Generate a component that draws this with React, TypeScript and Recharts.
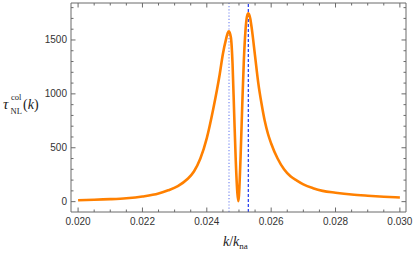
import React from 'react';
import { LineChart, Line, XAxis, YAxis, ReferenceLine } from 'recharts';

const kValues = [
  0.0200, 0.0205, 0.0210, 0.0215, 0.0220, 0.0225, 0.0228, 0.0231, 0.0234, 0.0236,
  0.0238, 0.0240, 0.0242, 0.0244, 0.0245, 0.0246, 0.02465, 0.02469, 0.02475, 0.0248,
  0.02485, 0.0249, 0.02495, 0.02498, 0.0250, 0.02505, 0.0251, 0.02515, 0.0252, 0.02525,
  0.02529, 0.02535, 0.0254, 0.0255, 0.0256, 0.0257, 0.0258, 0.0259, 0.0260, 0.0262,
  0.0264, 0.0266, 0.0268, 0.0270, 0.0273, 0.0276, 0.0280, 0.0285, 0.0290, 0.0295,
  0.0300,
];
const tauValues = [
  13, 17, 23, 32, 48, 75, 105, 145, 210, 280,
  400, 590, 860, 1180, 1370, 1510, 1565, 1580, 1520, 1280,
  820, 380, 80, 5, 60, 420, 880, 1300, 1580, 1720,
  1748, 1700, 1600, 1350, 1100, 910, 750, 630, 540, 400,
  300, 235, 195, 160, 125, 100, 83, 66, 55, 46,
  38,
];

const xTicks = [
  0.0200, 0.0205, 0.0210, 0.0215, 0.0220, 0.0225, 0.0230, 0.0235, 0.0240, 0.0245,
  0.0250, 0.0255, 0.0260, 0.0265, 0.0270, 0.0275, 0.0280, 0.0285, 0.0290, 0.0295, 0.0300,
];
const xMajorTicks = [0.020, 0.022, 0.024, 0.026, 0.028, 0.030];
const xTickLabels = ['0.020', '0.022', '0.024', '0.026', '0.028', '0.030'];
const yTicks = [0, 100, 200, 300, 400, 500, 600, 700, 800, 900, 1000, 1100, 1200, 1300, 1400, 1500, 1600, 1700, 1800];
const yMajorTicks = [0, 500, 1000, 1500];
const yTickLabels = ['0', '500', '1000', '1500'];

const kDotted = 0.02469;
const kDashed = 0.02529;

const data = kValues.map((k, i) => ({ k, tau: tauValues[i] }));

const FRAME = '#6a6a6a';
const LABEL = '#333';
const FONT = 'Liberation Sans, Arial, sans-serif';
const SERIF = 'Liberation Serif, DejaVu Serif, serif';

const majorIndex = (list: number[], v: number) => list.findIndex((m) => Math.abs(m - v) < 1e-9);

const BottomTick = (props: any) => {
  const { x, y, payload } = props;
  const mi = majorIndex(xMajorTicks, payload.value);
  return (
    <g>
      <line x1={x} y1={y} x2={x} y2={y - (mi >= 0 ? 4.5 : 2.5)} stroke={FRAME} strokeWidth={1} />
      {mi >= 0 && (
        <text x={x} y={y + 13} textAnchor="middle" fontSize={10} fontFamily={FONT} fill={LABEL}>
          {xTickLabels[mi]}
        </text>
      )}
    </g>
  );
};

const TopTick = (props: any) => {
  const { x, y, payload } = props;
  const mi = majorIndex(xMajorTicks, payload.value);
  return <line x1={x} y1={y} x2={x} y2={y + (mi >= 0 ? 4.5 : 2.5)} stroke={FRAME} strokeWidth={1} />;
};

const LeftTick = (props: any) => {
  const { x, y, payload } = props;
  const mi = majorIndex(yMajorTicks, payload.value);
  return (
    <g>
      <line x1={x} y1={y} x2={x + (mi >= 0 ? 4.5 : 2.5)} y2={y} stroke={FRAME} strokeWidth={1} />
      {mi >= 0 && (
        <text x={x - 4} y={y + 3.5} textAnchor="end" fontSize={10} fontFamily={FONT} fill={LABEL}>
          {yTickLabels[mi]}
        </text>
      )}
    </g>
  );
};

const RightTick = (props: any) => {
  const { x, y, payload } = props;
  const mi = majorIndex(yMajorTicks, payload.value);
  return <line x1={x} y1={y} x2={x - (mi >= 0 ? 4.5 : 2.5)} y2={y} stroke={FRAME} strokeWidth={1} />;
};

export default function App() {
  return (
    <div style={{ position: 'absolute', left: 0, top: 0, width: 414, height: 255, background: '#fff' }}>
      <LineChart width={414} height={255} data={data} margin={{ top: 2, right: 7, bottom: 42, left: 70 }}>
        <XAxis
          dataKey="k"
          type="number"
          domain={[0.01978, 0.03019]}
          allowDataOverflow
          ticks={xTicks}
          interval={0}
          tick={<BottomTick />}
          tickLine={false}
          tickSize={0}
          tickMargin={0}
          height={1}
          axisLine={{ stroke: FRAME }}
        />
        <XAxis
          xAxisId="top"
          orientation="top"
          dataKey="k"
          type="number"
          domain={[0.01978, 0.03019]}
          allowDataOverflow
          ticks={xTicks}
          interval={0}
          tick={<TopTick />}
          tickLine={false}
          tickSize={0}
          tickMargin={0}
          height={1}
          axisLine={{ stroke: FRAME }}
        />
        <YAxis
          type="number"
          domain={[-96, 1843]}
          allowDataOverflow
          ticks={yTicks}
          interval={0}
          tick={<LeftTick />}
          tickLine={false}
          tickSize={0}
          tickMargin={0}
          width={1}
          axisLine={{ stroke: FRAME }}
        />
        <YAxis
          yAxisId="right"
          orientation="right"
          type="number"
          domain={[-96, 1843]}
          allowDataOverflow
          ticks={yTicks}
          interval={0}
          tick={<RightTick />}
          tickLine={false}
          tickSize={0}
          tickMargin={0}
          width={1}
          axisLine={{ stroke: FRAME }}
        />
        <ReferenceLine x={kDotted} stroke="#7b8cf2" strokeWidth={1.2} strokeDasharray="1.2 2" />
        <ReferenceLine x={kDashed} stroke="#1f35f0" strokeWidth={1.2} strokeDasharray="3 2" />
        <Line
          type="monotone"
          dataKey="tau"
          stroke="#ff8000"
          strokeWidth={2.6}
          dot={false}
          isAnimationActive={false}
        />
        <text x={3} y={109} fontSize={15} fontStyle="italic" fontFamily={SERIF} fill="#222">τ</text>
        <text x={11} y={100} fontSize={8.5} fontFamily={SERIF} fill="#222">col</text>
        <text x={10.5} y={114} fontSize={8.5} fontFamily={SERIF} fill="#222">NL</text>
        <text x={23} y={109} fontSize={14} fontFamily={SERIF} fill="#222">
          (<tspan fontStyle="italic">k</tspan>)
        </text>
        <text x={223} y={246} fontFamily={SERIF} fill="#222">
          <tspan fontSize={14} fontStyle="italic">k</tspan>
          <tspan fontSize={14}>/</tspan>
          <tspan fontSize={14} fontStyle="italic">k</tspan>
          <tspan fontSize={9} dy={3}>na</tspan>
        </text>
      </LineChart>
    </div>
  );
}
